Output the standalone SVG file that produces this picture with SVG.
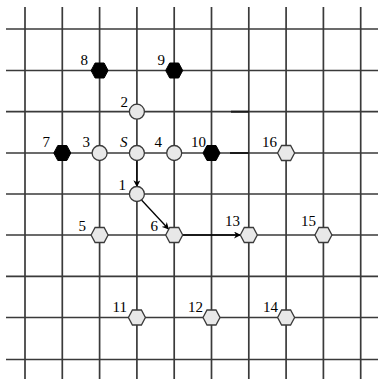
<svg xmlns="http://www.w3.org/2000/svg" width="378" height="379" viewBox="0 0 378 379">
<style>
.grid line{stroke:#3a3a3a;stroke-width:1.7}
.dk{stroke:#1a1a1a !important;stroke-width:2 !important}
.c{fill:#e8e8e8;stroke:#3a3a3a;stroke-width:1.3}
.h{fill:#e8e8e8;stroke:#3a3a3a;stroke-width:1.3}
.b{fill:#000;stroke:#000;stroke-width:1}
text{font-family:"Liberation Serif","DejaVu Serif",serif;font-size:15px;fill:#000;text-anchor:end}
.conn line{stroke:#000;stroke-width:1.3;marker-end:url(#ah)}
</style>
<defs>
<marker id="ah" viewBox="0 0 10 10" refX="9" refY="5" markerWidth="7" markerHeight="7" markerUnits="userSpaceOnUse" orient="auto">
<path d="M0,0 L10,5 L0,10 L3,5 Z" fill="#000"/>
</marker>
<polygon id="hex" points="-8.5,0 -4.5,-7.5 4.5,-7.5 8.5,0 4.5,7.5 -4.5,7.5"/>
</defs>
<rect width="378" height="379" fill="#fff"/>
<g class="grid">
<line x1="25" y1="7" x2="25" y2="379"/>
<line x1="62.3" y1="7" x2="62.3" y2="379"/>
<line x1="99.6" y1="7" x2="99.6" y2="379"/>
<line x1="136.9" y1="7" x2="136.9" y2="379"/>
<line x1="174.2" y1="7" x2="174.2" y2="379"/>
<line x1="211.5" y1="7" x2="211.5" y2="379"/>
<line x1="248.8" y1="7" x2="248.8" y2="379"/>
<line x1="286.1" y1="7" x2="286.1" y2="379"/>
<line x1="323.4" y1="7" x2="323.4" y2="379"/>
<line x1="360.7" y1="7" x2="360.7" y2="379"/>
<line x1="6" y1="29" x2="378" y2="29"/>
<line x1="6" y1="70.5" x2="378" y2="70.5"/>
<line x1="6" y1="111.7" x2="378" y2="111.7"/>
<line x1="6" y1="153" x2="378" y2="153"/>
<line x1="6" y1="194" x2="378" y2="194"/>
<line x1="6" y1="235" x2="378" y2="235"/>
<line x1="6" y1="276.3" x2="378" y2="276.3"/>
<line x1="6" y1="317.5" x2="378" y2="317.5"/>
<line x1="6" y1="359.5" x2="378" y2="359.5"/>
<line class="dk" x1="231" y1="111.7" x2="248.8" y2="111.7"/>
<line class="dk" x1="230" y1="153" x2="248.8" y2="153"/>
</g>
<g class="conn">
<line x1="136.9" y1="160.5" x2="136.9" y2="186.5"/>
<line x1="141.5" y1="200" x2="168.5" y2="229"/>
<line x1="182.7" y1="235" x2="240.3" y2="235"/>
</g>
<g id="n8"><use href="#hex" class="b" x="99.6" y="70.5"/><text x="88" y="65">8</text></g>
<g id="n9"><use href="#hex" class="b" x="174.2" y="70.5"/><text x="165" y="65">9</text></g>
<g id="n2"><circle class="c" cx="136.9" cy="111.7" r="7.5"/><text x="128" y="107">2</text></g>
<g id="n7"><use href="#hex" class="b" x="62.3" y="153"/><text x="50" y="147">7</text></g>
<g id="n3"><circle class="c" cx="99.6" cy="153" r="7.5"/><text x="90" y="147">3</text></g>
<g id="nS"><circle class="c" cx="136.9" cy="153" r="7.5"/><text x="127.5" y="147" font-style="italic">S</text></g>
<g id="n4"><circle class="c" cx="174.2" cy="153" r="7.5"/><text x="162" y="147">4</text></g>
<g id="n10"><use href="#hex" class="b" x="211.5" y="153"/><text x="206" y="147">10</text></g>
<g id="n16"><use href="#hex" class="h" x="286.1" y="153"/><text x="277" y="147">16</text></g>
<g id="n1"><circle class="c" cx="136.9" cy="194" r="7.5"/><text x="126" y="190">1</text></g>
<g id="n5"><use href="#hex" class="h" x="99.6" y="235"/><text x="86" y="231">5</text></g>
<g id="n6"><use href="#hex" class="h" x="174.2" y="235"/><text x="158" y="231">6</text></g>
<g id="n13"><use href="#hex" class="h" x="248.8" y="235"/><text x="240" y="226">13</text></g>
<g id="n15"><use href="#hex" class="h" x="323.4" y="235"/><text x="316" y="226">15</text></g>
<g id="n11"><use href="#hex" class="h" x="136.9" y="317.5"/><text x="127" y="312">11</text></g>
<g id="n12"><use href="#hex" class="h" x="211.5" y="317.5"/><text x="203" y="312">12</text></g>
<g id="n14"><use href="#hex" class="h" x="286.1" y="317.5"/><text x="278" y="312">14</text></g>
</svg>
